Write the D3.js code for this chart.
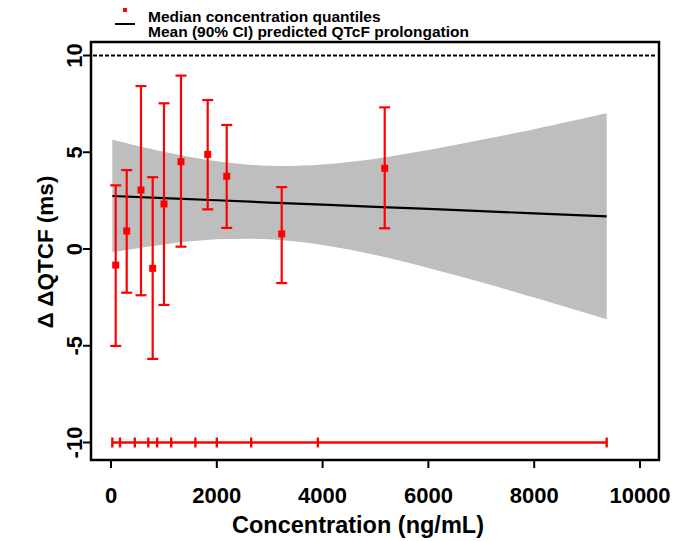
<!DOCTYPE html>
<html>
<head>
<meta charset="utf-8">
<script src="https://cdn.jsdelivr.net/npm/d3@7"></script>
<style>
  body { margin: 0; background: #fff; }
  svg text { font-family: "Liberation Sans", Arial, sans-serif; font-weight: bold; }
</style>
</head>
<body>
<div class="chart"></div>
<script>
// median concentration per decile bin and observed ddQTcF (median, 90% range)
var binConc = [89, 297, 567, 788, 1002, 1323, 1828, 2187, 3227, 5174];
var binMid  = [-0.83, 0.93, 3.05, -1.0, 2.33, 4.51, 4.89, 3.76, 0.78, 4.17];
var binLow  = [-5.01, -2.26, -2.39, -5.68, -2.89, 0.12, 2.05, 1.09, -1.76, 1.07];
var binHigh = [3.29, 4.08, 8.42, 3.71, 7.53, 8.96, 7.70, 6.41, 3.20, 7.32];

// decile boundaries of concentration (rug at the bottom)
var decileConc = [25, 170, 450, 705, 872, 1138, 1595, 2000, 2650, 3910, 9370];

// model prediction, mean and 90% CI
var predConc  = [25, 1000, 2000, 3000, 4000, 5000, 6000, 7000, 8000, 9370];
var predMean  = [2.74, 2.63, 2.52, 2.40, 2.29, 2.18, 2.07, 1.96, 1.84, 1.69];
var predLower = [-0.17, 0.23, 0.50, 0.50, 0.21, -0.31, -0.98, -1.72, -2.51, -3.63];
var predUpper = [5.65, 5.03, 4.54, 4.30, 4.37, 4.67, 5.12, 5.64, 6.19, 7.01];

var xTicks = [0, 2000, 4000, 6000, 8000, 10000];
var yTicks = [-10, -5, 0, 5, 10];
var threshold = 10;
var rugLevel = -10;

var width = 688, height = 541;
var box = { left: 91, right: 659, top: 42, bottom: 460 };

var svg = d3.select('.chart').append('svg')
  .attr('width', width).attr('height', height);

var x = d3.scaleLinear().domain([0, 10000]).range([111, 640]);
var y = d3.scaleLinear().domain([-10, 10]).range([442.5, 55.5]);

var pred = predConc.map(function(c, i) {
  return { c: c, m: predMean[i], lo: predLower[i], hi: predUpper[i] };
});

// CI band
svg.append('path')
  .datum(pred)
  .attr('d', d3.area().curve(d3.curveCatmullRom)
    .x(function(d) { return x(d.c); })
    .y0(function(d) { return y(d.lo); })
    .y1(function(d) { return y(d.hi); }))
  .style('fill', '#bebebe');

// mean line
svg.append('path')
  .datum(pred)
  .attr('d', d3.line()
    .x(function(d) { return x(d.c); })
    .y(function(d) { return y(d.m); }))
  .style('fill', 'none').style('stroke', '#000').style('stroke-width', 2.2);

// threshold line
svg.append('line')
  .attr('x1', box.left + 2).attr('x2', box.right - 2)
  .attr('y1', y(threshold)).attr('y2', y(threshold))
  .style('stroke', '#000').style('stroke-width', 2).style('stroke-dasharray', '4,2');

// observed error bars
var bins = binConc.map(function(c, i) {
  return { c: c, m: binMid[i], lo: binLow[i], hi: binHigh[i] };
});
var g = svg.append('g').style('stroke', '#ff0000').style('stroke-width', 2.2);
bins.forEach(function(d) {
  g.append('line').attr('x1', x(d.c)).attr('x2', x(d.c))
    .attr('y1', y(d.lo)).attr('y2', y(d.hi));
  g.append('line').attr('x1', x(d.c) - 5.5).attr('x2', x(d.c) + 5.5)
    .attr('y1', y(d.lo)).attr('y2', y(d.lo));
  g.append('line').attr('x1', x(d.c) - 5.5).attr('x2', x(d.c) + 5.5)
    .attr('y1', y(d.hi)).attr('y2', y(d.hi));
});
svg.selectAll('rect.pt')
  .data(bins)
  .enter()
  .append('rect')
  .attr('class', 'pt')
  .attr('x', function(d) { return x(d.c) - 3.5; })
  .attr('y', function(d) { return y(d.m) - 3.5; })
  .attr('width', 7).attr('height', 7)
  .style('fill', '#ff0000');

// concentration decile rug
var rug = svg.append('g').style('stroke', '#ff0000').style('stroke-width', 2.4);
rug.append('line')
  .attr('x1', x(decileConc[0])).attr('x2', x(decileConc[decileConc.length - 1]))
  .attr('y1', y(rugLevel)).attr('y2', y(rugLevel));
decileConc.forEach(function(c) {
  rug.append('line').attr('x1', x(c)).attr('x2', x(c))
    .attr('y1', y(rugLevel) - 5).attr('y2', y(rugLevel) + 5);
});

// frame
svg.append('rect')
  .attr('x', box.left).attr('y', box.top)
  .attr('width', box.right - box.left).attr('height', box.bottom - box.top)
  .style('fill', 'none').style('stroke', '#000').style('stroke-width', 2.5);

// x axis
var xAxis = svg.append('g');
xTicks.forEach(function(t) {
  xAxis.append('line').attr('x1', x(t)).attr('x2', x(t))
    .attr('y1', box.bottom).attr('y2', box.bottom + 8)
    .style('stroke', '#000').style('stroke-width', 2);
  xAxis.append('text').attr('x', x(t)).attr('y', 503)
    .attr('text-anchor', 'middle').style('font-size', '22px')
    .text(t);
});
svg.append('text').attr('x', 358).attr('y', 533)
  .attr('text-anchor', 'middle').style('font-size', '23.5px')
  .text('Concentration (ng/mL)');

// y axis
var yAxis = svg.append('g');
yTicks.forEach(function(t) {
  yAxis.append('line').attr('x1', box.left - 8).attr('x2', box.left)
    .attr('y1', y(t)).attr('y2', y(t))
    .style('stroke', '#000').style('stroke-width', 2);
  yAxis.append('text')
    .attr('transform', 'translate(82,' + y(t) + ') rotate(-90)')
    .attr('text-anchor', 'middle').style('font-size', '22px')
    .text(t);
});
svg.append('text')
  .attr('transform', 'translate(53,252) rotate(-90)')
  .attr('text-anchor', 'middle').style('font-size', '22.5px')
  .text('\u0394 \u0394QTCF (ms)');

// legend
var leg = svg.append('g');
leg.append('rect').attr('x', 123).attr('y', 8).attr('width', 4).attr('height', 4)
  .style('fill', '#ff0000');
leg.append('line').attr('x1', 115).attr('x2', 135).attr('y1', 24).attr('y2', 24)
  .style('stroke', '#000').style('stroke-width', 2);
leg.append('text').attr('x', 148).attr('y', 22).style('font-size', '15.5px')
  .text('Median concentration quantiles');
leg.append('text').attr('x', 148).attr('y', 36.5).style('font-size', '15.5px')
  .text('Mean (90% CI) predicted QTcF prolongation');
</script>
</body>
</html>
